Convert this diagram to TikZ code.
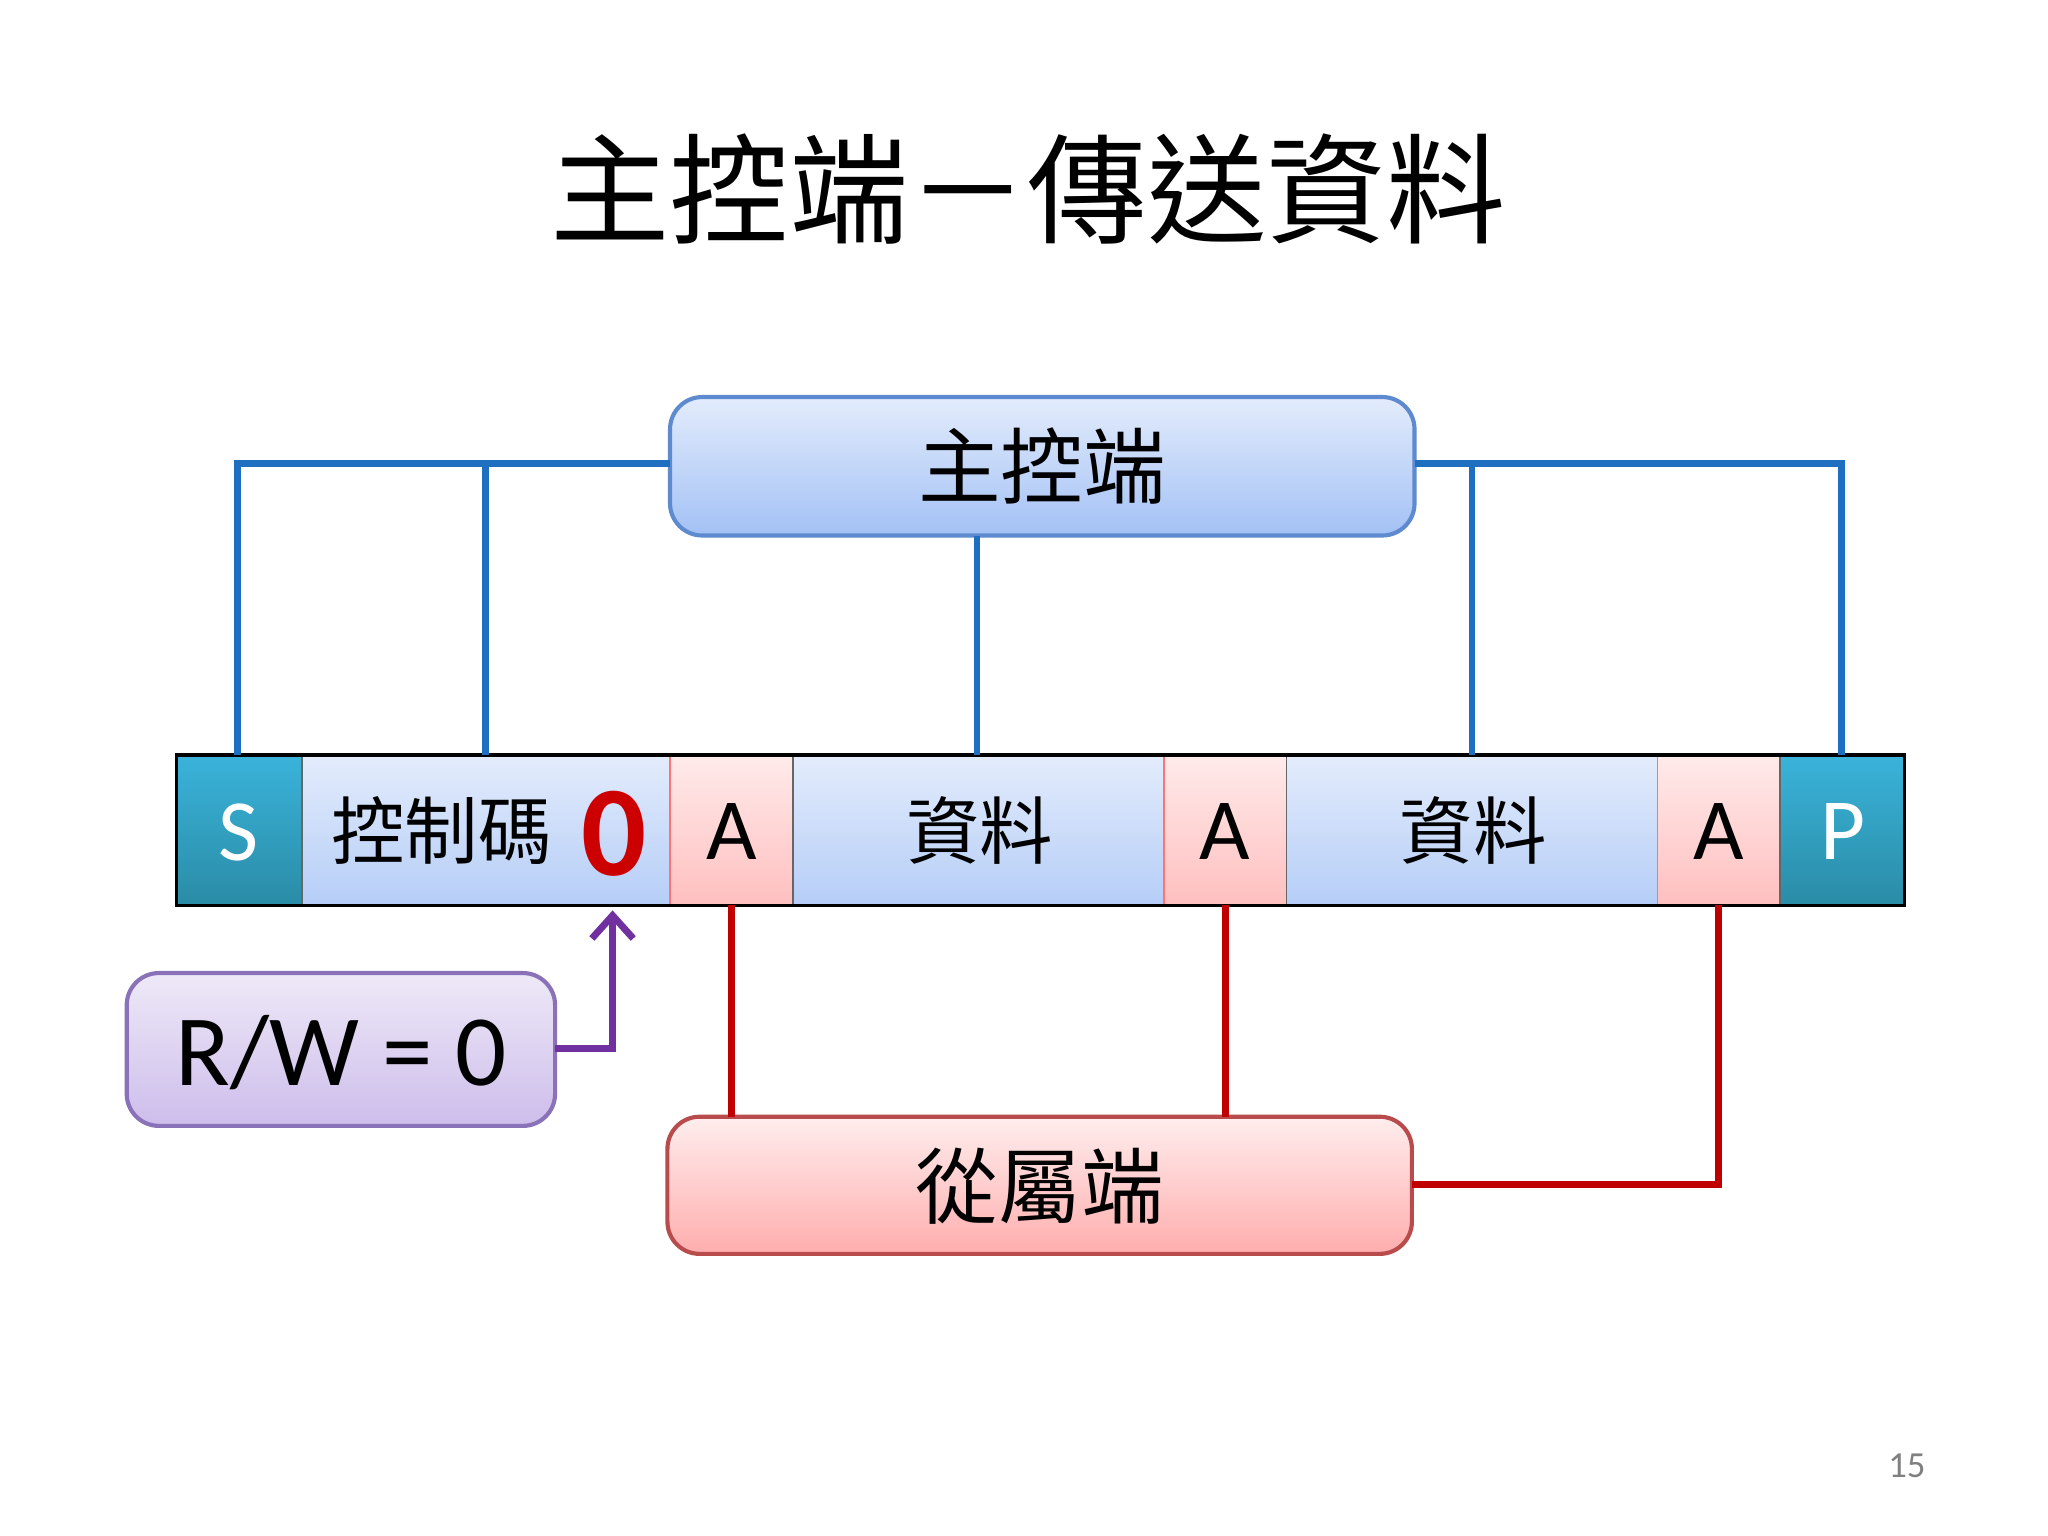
\documentclass[tikz,border=0pt]{standalone}
\usepackage{fontspec}
\setmainfont{Carlito}
\newfontfamily\cjk{Noto Sans CJK TC}
\usetikzlibrary{arrows.meta}
\definecolor{bl}{HTML}{1F6FC0}
\definecolor{rd}{HTML}{C00000}
\definecolor{pu}{HTML}{7030A0}
\definecolor{mtop}{HTML}{E3ECFC}
\definecolor{mbot}{HTML}{A3C1F5}
\definecolor{mdr}{HTML}{5E8AD0}
\definecolor{ttop}{HTML}{3AB3DA}
\definecolor{tbot}{HTML}{2A8CA6}
\definecolor{ptop}{HTML}{EEE9F8}
\definecolor{pbot}{HTML}{CDBDEB}
\definecolor{pdr}{HTML}{8A72B8}
\tikzset{
 rbox/.style={rounded corners=7pt, line width=0.9pt},
 mbox/.style={rbox, draw=mdr, top color=mtop, bottom color=mbot},
 sbox/.style={rbox, draw=red!60!black!70, top color=red!7, bottom color=red!32},
 pbox/.style={rbox, draw=pdr, top color=ptop, bottom color=pbot},
 seg/.style={draw=black!60, line width=0.4pt},
 teal/.style={seg, top color=ttop, bottom color=tbot},
 lblue/.style={seg, top color=mtop, bottom color=mbot!80},
 pink/.style={seg, draw=red!55, top color=red!8, bottom color=red!25},
 bline/.style={bl, line width=1.5pt},
 rline/.style={rd, line width=1.5pt},
 ftxt/.style={font=\fontsize{19}{20}\selectfont},
}
\begin{document}
\begin{tikzpicture}[x=0.01cm,y=-0.01cm]
\useasboundingbox (0,0) rectangle (1568,1176);
\node (title) at (787,145) {\cjk\fontsize{26}{28}\selectfont 主控端－傳送資料};
% bar
\path[teal] (135,578) rectangle (231,693);
\path[lblue] (231,578) rectangle (513,693);
\path[pink] (513,578) rectangle (607,693);
\path[lblue] (607,578) rectangle (891,693);
\path[pink] (891,578) rectangle (985,693);
\path[lblue] (985,578) rectangle (1269,693);
\path[pink] (1269,578) rectangle (1363,693);
\path[teal] (1363,578) rectangle (1458,693);
\draw[black, line width=0.7pt] (135,578) rectangle (1458,693);
\node[ftxt, white] (S) at (183,637) {S};
\node (ctl) at (338,636) {\cjk\fontsize{16}{18}\selectfont 控制碼};
\node[red!80!black, font=\bfseries\fontsize{28}{30}\selectfont] (zero) at (470,638) {0};
\node[ftxt] (A1) at (560,637) {A};
\node (d1) at (750,636) {\cjk\fontsize{16}{18}\selectfont 資料};
\node[ftxt] (A2) at (938,637) {A};
\node (d2) at (1128,636) {\cjk\fontsize{16}{18}\selectfont 資料};
\node[ftxt] (A3) at (1316,637) {A};
\node[ftxt, white] (P) at (1411,637) {P};
% master
\path[mbox] (513,304) rectangle (1083,410);
\node (master) at (798,357) {\cjk\fontsize{18}{20}\selectfont 主控端};
\coordinate (mL) at (513,355); \coordinate (mR) at (1083,355); \coordinate (mB) at (748,410);
\draw[bline] (mL) -- (182,355) -- (182,578);
\draw[bline] (372,355) -- (372,578);
\draw[bline] (mB) -- (748,578);
\draw[bline] (mR) -- (1410,355) -- (1410,578);
\draw[bline] (1127,355) -- (1127,578);
% slave
\path[sbox] (511,855) rectangle (1081,960);
\node (slave) at (796,908) {\cjk\fontsize{18}{20}\selectfont 從屬端};
\draw[rline] (560,693) -- (560,855);
\draw[rline] (938,693) -- (938,855);
\draw[rline] (1316,693) -- (1316,907) -- (1081,907);
% RW
\path[pbox] (97,745) rectangle (425,862);
\node[font=\fontsize{22}{24}\selectfont] (rw) at (261,806) {R/W = 0};
\draw[pu, line width=1.5pt, -{Straight Barb[length=5pt,width=9pt]}] (425,803) -- (469,803) -- (469,697);
\node[gray, font=\fontsize{8}{9}\selectfont] (pg) at (1460,1122) {15};
\end{tikzpicture}
\end{document}
